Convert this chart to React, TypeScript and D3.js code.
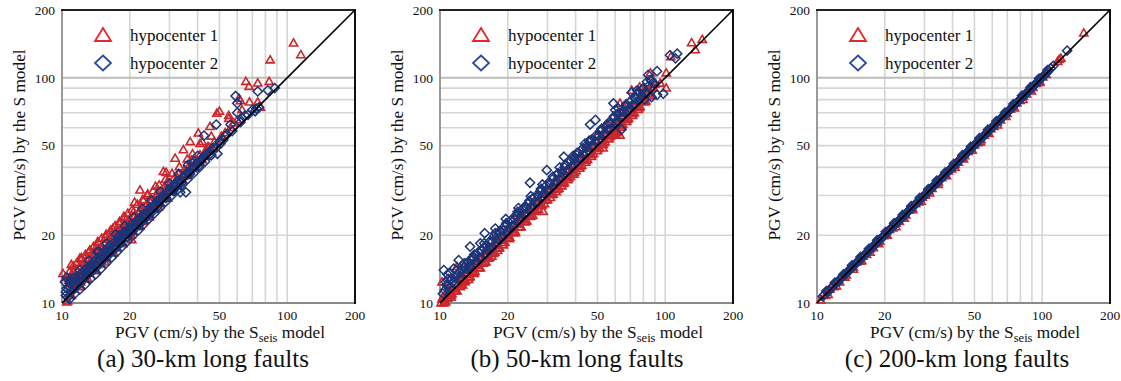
import React from 'react';
import * as d3 from 'd3';

type P = [number, number];

const tickValues = [10, 20, 50, 100, 200];
const gridValues = [20, 30, 40, 50, 60, 70, 80, 90, 100];
const seriesNames = ['hypocenter 1', 'hypocenter 2'];
const captions = ['(a) 30-km long faults', '(b) 50-km long faults', '(c) 200-km long faults'];
const yTitle = 'PGV (cm/s) by the S model';

// (a) 30-km, hypocenter 1
const a1: P[] = [
  [10.1,13.5],[10.5,10.1],[10.6,10.2],[10.8,11.0],[10.9,12.2],[11.0,13.4],[11.2,11.6],[11.3,12.8],[11.5,14.2],[11.6,12.0],
  [11.8,13.0],[12.0,14.6],[12.1,12.4],[12.3,13.8],[12.5,15.2],[12.6,13.0],[12.8,14.4],[13.0,15.8],[13.2,13.6],[13.4,15.0],
  [13.6,16.4],[13.8,14.2],[14.0,15.6],[14.2,17.0],[14.4,14.8],[14.6,16.2],[14.8,17.6],[15.0,15.4],[15.2,16.8],[15.5,18.4],
  [15.7,16.0],[16.0,17.6],[16.2,19.2],[16.5,16.8],[16.8,18.4],[17.0,20.0],[17.3,17.6],[17.6,19.2],[17.9,21.0],[18.2,18.6],
  [18.5,20.2],[18.8,22.0],[19.1,19.4],[19.5,21.2],[19.8,23.2],[20.2,20.8],[20.6,22.4],[21.0,24.4],[21.4,21.8],[21.8,23.8],
  [22.2,25.6],[22.7,23.0],[23.2,25.0],[23.6,27.0],[24.1,24.6],[24.6,26.6],[25.0,28.6],[25.6,26.2],[26.2,28.2],[26.6,30.4],
  [27.2,27.8],[27.8,30.0],[28.4,32.4],[29.0,29.6],[29.6,31.8],[30.2,34.0],[31.0,31.6],[31.8,34.0],[32.5,36.0],[33.4,34.2],
  [34.2,37.0],[35.0,39.0],[36.0,36.8],[37.0,39.6],[38.0,42.0],[39.0,40.0],[40.0,43.0],[41.0,45.5],[42.0,43.2],[43.5,47.0],
  [44.5,49.5],[46.0,47.5],[47.5,52.0],[49.0,50.5],[51.0,55.0],[53.0,57.0],[56.0,60.0],[58.0,63.0],
  [20.4,19.1],[21.0,28.0],[22.2,31.7],[24.0,30.5],[26.0,33.0],[28.2,38.3],[29.0,38.0],[31.8,43.9],[34.6,47.9],[37.1,52.0],
  [41.0,51.0],[38.0,46.0],[42.0,52.0],[40.3,56.8],[45.4,60.7],[48.7,69.6],[50.0,71.0],[55.0,68.0],[55.0,66.0],[61.0,81.0],
  [62.0,79.0],[63.0,72.0],[65.5,96.3],[67.7,91.5],[68.0,78.0],[74.0,94.7],[74.0,78.0],[76.0,74.0],[83.2,96.3],[84.0,120.0],
  [106.7,142.6],[115.0,126.5],[60.0,65.0],[46.0,55.0],[44.0,48.0],[12.0,15.8],[14.5,18.6],[16.8,21.4],[19.0,24.0],[23.0,28.5],
  [10.7,12.8],[11.0,14.8],[11.4,12.9],[11.7,14.0],[12.2,15.6],[12.4,14.2],[12.9,15.4],[13.1,16.8],[13.5,14.6],[13.9,16.6],
  [14.3,18.0],[14.7,15.4],[15.1,17.6],[15.6,19.6],[15.9,17.0],[16.3,18.4],[16.7,20.4],[17.1,18.6],[17.5,20.6],[18.0,22.4],
  [18.4,19.6],[18.9,21.2],[19.3,23.6],[19.7,20.6],[20.3,23.0],[20.8,25.4],[21.3,22.6],[21.9,24.8],[22.5,26.6],[23.0,24.0],
  [23.8,26.2],[24.4,28.6],[25.2,26.8],[26.0,29.6],[26.8,31.6],[27.6,29.0],[28.6,31.4],[29.4,34.6],[30.6,32.4],[31.4,35.6],
  [33.0,37.4],[34.6,36.4],[36.4,40.2],[37.6,43.0],[39.6,42.0],[42.6,46.0],[45.0,49.0],
  [10.4,13.0],[10.8,13.8],[11.2,14.6],[11.6,15.0],[12.2,15.9],[12.7,16.4],[13.3,17.2],[13.8,17.8],[14.4,18.7],[15.0,19.4],
  [15.7,20.2],[16.4,21.0],[17.2,22.0],[18.0,23.0],[18.8,24.2],[19.6,25.0],[20.5,26.0],[21.6,27.4],[22.8,28.8],[24.0,30.0],
  [25.4,31.5],[27.0,33.4],[28.8,35.4],[30.8,37.6],[33.2,40.2],[36.0,43.6],
  [11.0,10.8],[12.0,11.8],[13.0,12.8],[14.2,13.9],[15.5,15.2],[17.0,16.7],[18.6,18.3],[20.3,20.0],[22.2,21.9],[24.4,24.1],
  [26.8,26.6],[29.5,29.2]
];

// (a) 30-km, hypocenter 2
const a2: P[] = [
  [10.3,12.4],[10.4,11.2],[10.5,13.0],[10.6,10.6],[10.7,11.8],[10.9,12.6],[11.0,11.2],[11.2,12.0],[11.4,13.0],[11.6,11.8],
  [11.8,12.6],[12.0,13.4],[12.2,12.4],[12.4,13.2],[12.6,14.0],[12.9,13.2],[13.1,14.0],[13.4,14.8],[13.6,13.8],[13.9,14.8],
  [14.2,15.6],[14.4,14.6],[14.7,15.6],[15.0,16.6],[15.3,15.6],[15.6,16.6],[15.9,17.6],[16.2,16.4],[16.5,17.4],[16.8,18.4],
  [17.2,17.4],[17.5,18.6],[17.8,19.6],[18.2,18.4],[18.6,19.6],[19.0,20.8],[19.4,19.6],[19.8,21.0],[20.2,22.2],[20.6,20.8],
  [21.1,22.2],[21.6,23.4],[22.0,22.2],[22.5,23.6],[23.0,24.8],[23.5,23.8],[24.0,25.2],[24.6,26.4],[25.2,25.4],[25.8,27.0],
  [26.4,28.4],[27.0,27.2],[27.6,28.8],[28.2,30.2],[29.0,29.2],[29.7,31.0],[30.4,32.6],[31.2,31.4],[32.0,33.6],[33.0,35.0],
  [34.0,34.2],[35.0,36.6],[36.0,38.0],[37.0,37.4],[38.2,40.0],[39.4,41.6],[40.6,40.8],[42.0,44.0],[43.5,45.5],[45.0,45.4],
  [46.5,48.0],[48.5,49.0],[50.0,52.0],[52.0,53.0],[54.0,56.0],
  [33.5,31.0],[35.5,31.0],[42.7,55.4],[48.4,62.0],[49.0,46.0],[59.0,83.0],[60.0,77.0],[60.0,70.0],[70.0,72.0],[73.0,73.0],
  [75.0,74.0],[82.0,88.0],[88.0,90.0],[74.0,87.0],[56.0,62.0],[63.0,66.0],[65.0,68.0],[38.0,42.0],[18.0,20.0],[14.5,17.0],
  [10.4,10.8],[10.5,11.6],[10.8,12.2],[11.1,12.4],[11.3,11.6],[11.5,12.4],[11.9,13.0],[12.1,12.8],[12.5,13.6],[12.8,13.6],
  [13.0,14.4],[13.3,13.8],[13.5,14.4],[13.8,15.2],[14.1,14.6],[14.5,15.2],[14.9,16.0],[15.2,15.8],[15.5,16.2],[15.8,17.0],
  [16.1,17.0],[16.4,16.8],[16.8,17.6],[17.1,18.0],[17.4,17.8],[17.7,18.4],[18.0,19.2],[18.4,19.0],[18.8,20.2],[19.2,20.2],
  [19.6,20.4],[20.0,21.4],[20.4,21.6],[20.9,21.6],[21.4,22.6],[21.8,23.0],[22.3,22.8],[22.8,24.2],[23.3,24.4],[23.8,24.4],
  [24.3,25.8],[24.9,25.6],[25.5,26.8],[26.1,27.4],[26.7,27.6],[27.3,28.6],[27.9,29.6],[28.6,29.6],[29.3,30.6],[30.0,31.8],
  [30.8,32.0],[31.6,32.6],[32.4,34.6],[33.5,34.6],[34.5,36.0],[35.6,37.2],[36.6,37.8],[37.6,39.4],[38.8,40.0],[40.0,42.0],
  [41.2,42.6],[42.8,44.6],[44.2,46.0],[47.0,49.0],
  [10.8,10.4],[11.4,11.0],[12.0,11.5],[12.7,12.1],[13.4,12.8],[14.1,13.4],[14.9,14.2],[15.7,15.0],[16.6,15.9],[17.5,16.8],
  [18.5,17.8],[19.5,18.8],[20.6,19.9],[21.8,21.0],[23.0,22.3],[24.3,23.6],[25.7,25.0],[27.2,26.5],[28.8,28.1],[30.5,29.8],
  [32.3,31.6],[34.2,33.5],[36.2,35.5],[38.4,37.7],[40.7,40.0],[43.2,42.5],[46.0,45.3],[50.5,51.0],[53.0,55.0],[57.0,58.0],
  [62.0,63.5],[67.0,68.5],[72.0,71.0],
  [11.0,12.9],[12.0,14.0],[13.2,15.4],[14.4,16.8],[15.8,18.4],[17.3,20.2],[19.0,22.0],[20.8,24.0],[22.8,26.2],[25.0,28.6],
  [27.4,31.2],[30.0,34.0],[33.0,37.4],[36.2,41.0],[40.0,45.0]
];

// (b) 50-km, hypocenter 1
const b1: P[] = [
  [10.1,10.0],[10.3,10.6],[10.5,10.2],[10.7,11.2],[10.9,10.6],[11.1,11.8],[11.3,11.0],[11.6,12.2],[11.8,11.4],[12.1,12.8],
  [12.4,12.0],[12.7,13.3],[13.0,12.6],[13.3,14.0],[13.6,13.1],[13.9,14.6],[14.3,13.8],[14.6,15.3],[15.0,14.4],[15.4,16.0],
  [15.8,15.2],[16.2,16.9],[16.6,15.9],[17.0,17.8],[17.5,16.8],[17.9,18.6],[18.4,17.6],[18.9,19.6],[19.4,18.6],[19.9,20.7],
  [20.4,19.6],[21.0,21.9],[21.6,20.7],[22.2,23.1],[22.8,21.8],[23.4,24.4],[24.0,23.0],[24.7,25.8],[25.4,24.3],[26.1,27.2],
  [26.8,25.7],[27.6,28.8],[28.4,27.2],[29.2,30.4],[30.0,28.8],[30.9,32.2],[31.8,30.5],[32.7,34.1],[33.7,32.3],[34.7,36.2],
  [35.7,34.2],[36.8,38.4],[37.9,36.4],[39.0,40.7],[40.2,38.6],[41.4,43.2],[42.6,40.9],[43.9,45.8],[45.2,43.4],[46.6,48.6],
  [48.0,46.1],[49.5,51.6],[51.0,49.0],[52.5,54.8],[54.1,52.0],[55.8,58.2],[57.5,55.3],[59.2,61.8],[61.0,58.6],[62.8,65.5],
  [64.7,62.2],[66.7,69.6],[68.7,66.0],[70.8,73.8],[72.9,70.0],[75.1,78.3],[77.4,74.4],[79.7,83.1],[82.1,78.9],[84.6,88.2],
  [87.1,83.8],[89.7,93.6],
  [11.9,14.5],[10.2,12.4],[13.0,15.0],[28.7,25.5],[53.0,48.7],[60.0,56.0],[61.0,57.0],[63.0,55.6],[63.0,77.0],[71.0,88.0],
  [77.0,91.0],[86.0,105.0],[87.0,90.0],[95.0,94.6],[101.0,90.0],[101.0,105.0],[106.0,124.0],[131.0,143.0],[136.0,133.0],[146.0,148.0],
  [18.0,20.5],[22.0,25.0],[35.0,39.0],[45.0,50.0],[50.0,55.0],[40.0,44.0],[55.0,62.0],[66.0,74.0],
  [10.2,10.4],[10.4,10.0],[10.6,10.9],[10.8,10.5],[11.0,11.2],[11.2,10.8],[11.5,11.6],[11.7,11.3],[12.0,12.2],[12.3,11.8],
  [12.6,12.8],[12.9,12.4],[13.2,13.4],[13.5,13.0],[13.8,14.0],[14.1,13.6],[14.5,14.7],[14.9,14.3],[15.2,15.5],[15.6,15.0],
  [16.0,16.3],[16.4,15.8],[16.8,17.1],[17.3,16.6],[17.7,18.0],[18.2,17.5],[18.7,19.0],[19.2,18.5],[19.7,20.0],[20.2,19.5],
  [20.8,21.1],[21.3,20.5],[21.9,22.3],[22.5,21.7],[23.1,23.5],[23.8,22.9],[24.4,24.8],[25.1,24.2],[25.8,26.2],[26.5,25.5],
  [27.3,27.7],[28.1,27.0],[28.9,29.3],[29.7,28.6],[30.5,31.0],[31.4,30.2],[32.3,32.8],[33.2,32.0],[34.2,34.7],[35.2,33.9],
  [36.2,36.8],[37.3,35.9],[38.4,39.0],[39.5,38.0],[40.8,41.4],[42.0,40.4],[43.2,43.9],[44.5,42.9],[45.9,46.6],[47.2,45.5],
  [48.7,49.4],[50.2,48.4],[51.7,52.5],[53.3,51.3],[55.0,55.8],[56.6,54.5],[58.4,59.3],[60.1,57.9],[62.0,62.9],[63.9,61.5],
  [65.8,66.8],[67.8,65.3],[69.9,71.0],[72.0,69.3],[74.2,75.3],[76.5,73.6],[78.8,80.0],[81.2,78.1],[83.7,85.0],[86.2,82.9],
  [88.9,90.2],
  [10.6,10.1],[11.2,10.6],[11.9,11.3],[12.6,12.0],[13.4,12.7],[14.2,13.5],[15.1,14.3],[16.0,15.2],[17.0,16.1],[18.0,17.1],
  [19.1,18.1],[20.3,19.3],[21.6,20.5],[22.9,21.8],[24.3,23.1],[25.8,24.5],[27.4,26.0],[29.1,27.6],[30.9,29.4],[32.8,31.2],
  [34.8,33.1],[37.0,35.2],[39.3,37.3],[41.7,39.6],[44.3,42.1],[47.0,44.7],[49.9,47.4],[53.0,50.4],[56.3,53.5],[59.8,56.8],
  [63.5,60.3],[67.4,64.0],[71.6,68.0],[76.0,72.2]
];

// (b) 50-km, hypocenter 2
const b2: P[] = [
  [10.3,11.0],[10.4,14.0],[10.6,12.4],[10.8,13.4],[11.0,11.6],[11.2,12.8],[11.5,14.2],[11.7,12.2],[12.0,13.4],[12.1,15.5],
  [12.4,13.0],[12.7,14.4],[13.0,13.6],[13.3,15.2],[13.6,17.8],[13.7,14.4],[14.0,16.0],[14.4,15.0],[14.8,16.8],[15.1,18.4],
  [15.2,15.8],[15.6,17.6],[15.8,20.4],[16.0,16.6],[16.5,18.6],[17.0,17.6],[17.4,19.8],[17.6,21.4],[17.9,18.6],[18.4,20.8],
  [18.9,19.6],[19.4,22.0],[19.6,23.6],[20.0,20.8],[20.6,23.2],[21.2,22.0],[21.8,24.6],[22.3,26.4],[22.5,23.4],[23.2,26.0],
  [23.9,24.8],[24.6,27.6],[25.1,34.2],[25.3,29.8],[25.4,26.4],[26.2,29.4],[27.0,28.0],[27.8,31.2],[28.5,33.6],[28.7,29.8],
  [29.6,33.2],[29.8,38.9],[30.5,31.6],[31.5,35.4],[32.5,33.8],[33.5,37.6],[34.0,40.0],[34.6,36.0],[35.5,44.6],[35.7,40.0],
  [36.8,38.2],[38.0,42.6],[39.0,45.0],[39.2,40.8],[40.5,45.4],[41.8,43.4],[43.1,48.4],[44.0,51.0],[44.5,46.2],[46.0,51.6],
  [46.4,62.0],[47.5,49.4],[49.0,55.0],[49.0,65.0],[50.5,52.5],[52.0,58.4],[53.6,55.8],[55.3,62.0],[57.0,59.3],[58.8,66.0],
  [58.9,77.0],[60.0,72.0],[60.6,63.0],[62.0,73.0],[62.5,70.0],[64.0,59.0],[64.5,67.0],[66.5,74.6],[68.5,71.2],[70.6,79.2],
  [71.0,86.0],[72.8,75.7],[75.0,88.0],[75.0,84.2],[77.3,80.4],[79.7,89.4],[81.0,80.0],[82.1,85.4],[83.0,96.0],[84.0,103.0],
  [87.0,82.0],[88.0,95.0],[92.0,84.0],[92.0,107.0],[98.0,85.0],[105.0,126.0],[111.0,122.0],[113.0,128.0],
  [10.5,11.4],[10.7,12.0],[10.9,12.8],[11.1,13.6],[11.4,12.4],[11.6,13.0],[11.9,14.0],[12.2,12.8],[12.5,14.0],[12.8,15.0],
  [13.1,14.2],[13.4,14.4],[13.8,15.6],[14.2,16.4],[14.5,15.4],[14.9,15.8],[15.3,17.0],[15.7,18.4],[16.2,17.2],[16.6,17.4],
  [17.1,18.8],[17.6,20.4],[18.1,19.2],[18.6,19.6],[19.1,21.0],[19.7,22.6],[20.3,21.6],[20.9,22.0],[21.5,23.6],[22.1,25.4],
  [22.8,24.2],[23.5,24.8],[24.2,26.6],[24.9,28.4],[25.7,27.2],[26.5,28.0],[27.3,30.0],[28.1,32.2],[29.0,30.8],[29.9,31.6],
  [30.8,33.8],[31.7,36.4],[32.7,34.8],[33.7,35.6],[34.8,38.2],[35.9,41.0],[37.0,39.2],[38.2,40.4],[39.4,43.2],[40.6,46.4],
  [41.9,44.4],[43.2,45.8],[44.6,48.8],[46.0,52.6],[47.5,50.2],[49.0,52.0],[50.6,55.4],[52.2,59.4],[53.9,57.0],[55.6,59.0],
  [57.4,62.8],[59.2,67.4],[61.1,64.6],[63.1,66.8],[65.1,71.2],[67.2,76.4],[69.4,73.4],[71.6,75.8],[73.9,80.8],[76.3,86.6],
  [78.8,83.3],[81.3,86.0],[83.9,91.6],[86.6,98.0],[89.4,94.4],
  [10.9,12.0],[11.8,13.2],[12.9,14.5],[14.0,15.7],[15.3,17.2],[16.7,18.8],[18.2,20.5],[19.8,22.3],[21.6,24.3],[23.6,26.6],
  [25.7,29.0],[28.0,31.6],[30.5,34.4],[33.3,37.5],[36.3,40.9],[39.6,44.6],[43.2,48.7],[47.1,53.1],[51.4,57.9],[56.0,63.1],
  [61.1,68.8],[66.6,75.0],[72.6,81.8],[79.2,89.2],[86.4,97.3]
];

// (c) 200-km, hypocenter 1
const c1: P[] = [
  [10.4,10.3],[10.9,10.8],[11.4,11.5],[11.9,11.8],[12.4,12.5],[12.6,12.4],[13.0,13.1],[13.5,13.3],[14.0,14.1],[14.5,14.4],
  [15.0,15.2],[15.5,15.3],[16.0,16.1],[16.6,16.4],[17.2,17.4],[17.8,17.6],[18.4,18.5],[19.0,18.8],[19.7,19.9],[20.3,20.1],
  [21.0,21.2],[21.7,21.5],[22.4,22.6],[23.2,23.0],[24.0,24.2],[24.8,24.6],[25.6,25.8],[26.5,26.3],[27.4,27.6],[28.3,28.1],
  [29.3,29.5],[30.3,30.1],[31.3,31.5],[32.4,32.2],[33.5,33.7],[34.6,34.4],[35.8,36.0],[37.0,36.8],[38.3,38.5],[39.6,39.3],
  [41.0,41.2],[42.4,42.1],[43.8,44.0],[45.3,45.0],[46.9,47.1],[48.5,48.2],[50.1,50.3],[51.8,51.4],[53.5,53.0],[55.3,55.5],
  [57.2,56.8],[59.1,59.3],[61.1,60.7],[63.2,63.4],[65.3,64.9],[67.5,67.7],[69.8,69.4],[72.2,72.4],[74.6,74.2],[77.1,77.3],
  [79.7,79.3],[82.4,82.6],[85.2,84.7],[88.1,88.3],[91.0,90.5],[94.1,94.3],[97.3,96.8],[100.6,100.8],[104.0,103.5],[117.0,118.0],
  [119.0,120.5],[121.0,122.0],[153.0,158.0],
  [11.2,10.9],[12.2,11.9],[13.3,13.0],[14.5,14.1],[15.8,15.4],[17.2,16.8],[18.8,18.3],[20.5,20.0],[22.4,21.8],[24.4,23.8],
  [26.6,25.9],[29.0,28.3],[31.6,30.8],[34.5,33.6],[37.6,36.7],[41.0,40.0],[44.7,43.6],[48.8,47.6],[53.2,51.9],[58.0,56.6],
  [63.3,61.7],[69.0,67.3],[75.3,73.4],[82.1,80.0],[89.5,87.3],[97.6,95.2]
];

// (c) 200-km, hypocenter 2
const c2: P[] = [
  [10.6,10.7],[11.1,11.2],[11.6,11.7],[12.1,12.2],[12.7,12.8],[13.2,13.3],[13.7,13.8],[14.2,14.3],[14.8,14.9],[15.3,15.4],
  [15.8,15.9],[16.3,16.4],[16.9,17.0],[17.5,17.6],[18.1,18.2],[18.7,18.8],[19.4,19.5],[20.0,20.1],[20.7,20.8],[21.4,21.5],
  [22.1,22.2],[22.8,22.9],[23.6,23.7],[24.4,24.5],[25.2,25.3],[26.0,26.2],[26.9,27.0],[27.8,27.9],[28.8,28.9],[29.8,29.9],
  [30.8,30.9],[31.8,32.0],[32.9,33.0],[34.0,34.2],[35.2,35.3],[36.4,36.5],[37.6,37.8],[38.9,39.1],[40.3,40.4],[41.7,41.8],
  [43.1,43.3],[44.6,44.7],[46.1,46.3],[47.7,47.9],[49.3,49.5],[51.0,51.2],[52.7,52.9],[54.5,54.7],[56.3,56.5],[58.2,58.5],
  [60.2,60.4],[62.2,62.5],[64.3,64.6],[66.4,66.7],[68.6,68.9],[70.9,71.2],[73.3,73.6],[75.8,76.1],[78.4,78.7],[81.0,81.3],
  [83.7,84.0],[86.5,86.9],[89.4,89.8],[92.4,92.8],[95.5,95.9],[98.7,99.1],[102.0,102.5],[105.5,106.0],[109.0,110.0],[112.0,113.0],
  [129.0,132.0],
  [10.8,10.9],[11.3,11.3],[11.8,11.9],[12.4,12.4],[12.9,13.0],[13.4,13.5],[14.0,14.0],[14.5,14.6],[15.0,15.1],[15.6,15.6],
  [16.1,16.2],[16.6,16.7],[17.2,17.2],[17.8,17.9],[18.4,18.4],[19.0,19.1],[19.7,19.7],[20.4,20.4],[21.0,21.1],[21.7,21.8],
  [22.4,22.5],[23.2,23.3],[24.0,24.0],[24.8,24.9],[25.6,25.7],[26.5,26.5],[27.3,27.4],[28.3,28.3],[29.3,29.4],[30.3,30.3],
  [31.3,31.4],[32.3,32.4],[33.4,33.5],[34.6,34.6],[35.8,35.9],[37.0,37.1],[38.2,38.4],[39.6,39.7],[41.0,41.1],[42.4,42.5],
  [43.8,44.0],[45.3,45.5],[46.9,47.0],[48.5,48.7],[50.1,50.3],[51.8,52.0],[53.6,53.8],[55.4,55.6],[57.2,57.5],[59.2,59.4],
  [61.2,61.4],[63.2,63.5],[65.3,65.6],[67.5,67.8],[69.8,70.0],[72.1,72.4],[74.5,74.9],[77.1,77.4],[79.7,80.0],[82.3,82.7],
  [85.1,85.4],[87.9,88.3],[90.9,91.3],[93.9,94.4],[97.1,97.5],[100.3,100.8],[103.8,104.2],
  [11.0,11.3],[12.0,12.3],[13.1,13.4],[14.3,14.7],[15.6,16.0],[17.0,17.4],[18.5,19.0],[20.2,20.7],[22.0,22.6],[24.0,24.6],
  [26.2,26.9],[28.6,29.3],[31.2,32.0],[34.0,34.9],[37.1,38.0],[40.5,41.5],[44.2,45.3],[48.2,49.4],[52.6,53.9],[57.4,58.8],
  [62.6,64.2],[68.3,70.0],[74.5,76.4],[81.3,83.3],[88.7,90.9],[96.8,99.2],[105.6,108.2]
];

const layout = [
  { left: 62, h1: a1, h2: a2, caption: captions[0], capX: 203 },
  { left: 440, h1: b1, h2: b2, caption: captions[1], capX: 577 },
  { left: 817, h1: c1, h2: c2, caption: captions[2], capX: 957 },
];

const SERIF = "'Liberation Serif', 'Times New Roman', Times, 'DejaVu Serif', serif";
const RED = '#cc262b';
const BLUE = '#1c3478';
const TRI = 'M0,-4.2L4.1,2.9L-4.1,2.9Z';
const DIA = 'M0,-4.6L4.6,0L0,4.6L-4.6,0Z';

function Panel({ left, h1, h2, caption, capX }: { left: number; h1: P[]; h2: P[]; caption: string; capX: number }) {
  const top = 10;
  const size = 293;
  const x = d3.scaleLog().domain([10, 200]).range([left, left + size]);
  const y = d3.scaleLog().domain([10, 200]).range([top + size, top]);
  const diag = d3.line<number>().x((d) => x(d)).y((d) => y(d))([10, 200]) || '';
  const ts = { fontFamily: SERIF };
  return (
    <g>
      {gridValues.map((v) => (
        <line key={'gx' + v} x1={x(v)} x2={x(v)} y1={top} y2={top + size} stroke="#d6d6d6" strokeWidth={1.6} />
      ))}
      {gridValues.map((v) => (
        <line key={'gy' + v} x1={left} x2={left + size} y1={y(v)} y2={y(v)}
          stroke={v === 100 ? '#bdbdbd' : '#d6d6d6'} strokeWidth={v === 100 ? 2 : 1.6} />
      ))}
      <line x1={left} x2={left} y1={top} y2={top + size} stroke="#9a9a9a" strokeWidth={2} />
      <line x1={left} x2={left + size} y1={top + size} y2={top + size} stroke="#8a8a8a" strokeWidth={2} />
      <line x1={left - 1} x2={left + size + 1} y1={top} y2={top} stroke="#222" strokeWidth={2} />
      <line x1={left + size} x2={left + size} y1={top} y2={top + size + 1} stroke="#111" strokeWidth={2} />
      {h1.map((d, i) => (
        <path key={'s1' + i} d={TRI} transform={`translate(${x(d[0])},${y(d[1])})`} fill="none" stroke={RED} strokeWidth={1.6} />
      ))}
      {h2.map((d, i) => (
        <path key={'s2' + i} d={DIA} transform={`translate(${x(d[0])},${y(d[1])})`} fill="none" stroke={BLUE} strokeWidth={1.5} />
      ))}
      <path d={diag} stroke="#000" strokeWidth={1.6} fill="none" />
      {tickValues.map((v) => (
        <text key={'ty' + v} x={left - 7} y={y(v)} dy="0.35em" textAnchor="end" style={ts} fontSize={13.5} fill="#111">{v}</text>
      ))}
      {tickValues.map((v) => (
        <text key={'tx' + v} x={x(v)} y={320} textAnchor="middle" style={ts} fontSize={13.5} fill="#111">{v}</text>
      ))}
      <path d="M0,-7L8,6L-8,6Z" transform={`translate(${left + 41},${35})`} fill="none" stroke="#e8262a" strokeWidth={1.8} />
      <text x={left + 68} y={41} style={ts} fontSize={17} fill="#111">{seriesNames[0]}</text>
      <path d="M0,-7.5L8,0L0,7.5L-8,0Z" transform={`translate(${left + 41},${63})`} fill="none" stroke="#2a4aa0" strokeWidth={1.8} />
      <text x={left + 68} y={69} style={ts} fontSize={17} fill="#111">{seriesNames[1]}</text>
      <text transform={`translate(${left - 43.5},${145}) rotate(-90)`} dy="0.35em" textAnchor="middle" style={ts} fontSize={17.3} fill="#111">{yTitle}</text>
      <text x={left + 158} y={338} textAnchor="middle" style={ts} fontSize={17.3} fill="#111">
        PGV (cm/s) by the S<tspan fontSize={12.5} dy={4}>seis</tspan><tspan dy={-4}> model</tspan>
      </text>
      <text x={capX} y={367} textAnchor="middle" style={ts} fontSize={25} fill="#111">{caption}</text>
    </g>
  );
}

export default function App() {
  return (
    <svg width={1121} height={381} viewBox="0 0 1121 381" style={{ position: 'absolute', left: 0, top: 0, background: '#fff', fontFamily: SERIF }}>
      <rect width={1121} height={381} fill="#fff" />
      {layout.map((p, i) => (
        <Panel key={i} {...p} />
      ))}
    </svg>
  );
}
